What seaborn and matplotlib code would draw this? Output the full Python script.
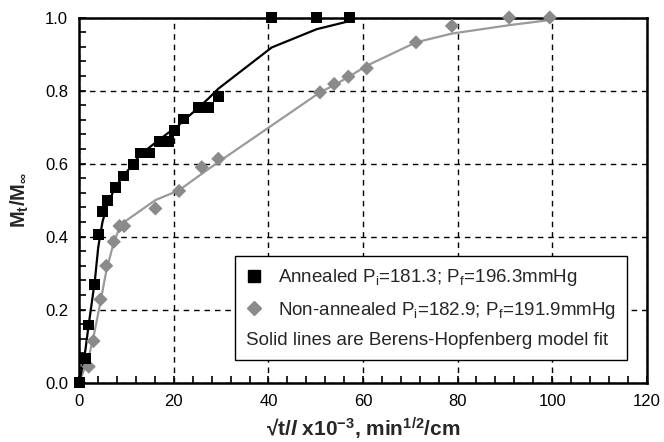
import numpy as np
import pandas as pd
import matplotlib
matplotlib.use("Agg")
import matplotlib.pyplot as plt
from matplotlib.lines import Line2D
from matplotlib.ticker import MultipleLocator, FormatStrFormatter
import seaborn as sns

# Sorption kinetics: normalised uptake vs sqrt(t)/l
annealed_x = [0, 1.3, 1.9, 3.3, 4.0, 4.9, 6.0, 7.6, 9.3, 11.4, 13.0, 14.9,
              16.9, 18.9, 20.2, 22.0, 25.1, 27.3, 29.4, 40.7, 50.2, 57.1]
annealed_y = [0, 0.065, 0.158, 0.269, 0.407, 0.469, 0.499, 0.535, 0.566, 0.597,
              0.629, 0.629, 0.660, 0.660, 0.691, 0.722, 0.753, 0.753, 0.784,
              1.0, 1.0, 1.0]
annealed_fit = [0, 0.09, 0.15, 0.28, 0.37, 0.44, 0.49, 0.535, 0.565, 0.60,
                0.625, 0.645, 0.665, 0.685, 0.695, 0.717, 0.752, 0.778, 0.805,
                0.918, 0.968, 0.99]

nonannealed_x = [2.0, 3.0, 4.5, 5.7, 7.3, 8.5, 9.5, 16.1, 21.1, 25.9, 29.4,
                 50.9, 53.9, 56.9, 60.8, 71.2, 78.8, 90.9, 99.5]
nonannealed_y = [0.044, 0.114, 0.228, 0.320, 0.386, 0.429, 0.429, 0.477, 0.525,
                 0.590, 0.613, 0.795, 0.818, 0.838, 0.861, 0.932, 0.977, 1.0, 1.0]
nonannealed_fit_x = [0] + nonannealed_x
nonannealed_fit = [0, 0.07, 0.125, 0.222, 0.305, 0.385, 0.423, 0.44, 0.50, 0.527,
                   0.572, 0.604, 0.795, 0.815, 0.837, 0.868, 0.932, 0.956,
                   0.979, 0.993]

x_ticks = [0, 20, 40, 60, 80, 100, 120]
y_ticks = [0.0, 0.2, 0.4, 0.6, 0.8, 1.0]

label_annealed = r"Annealed P$_\mathregular{i}$=181.3; P$_\mathregular{f}$=196.3mmHg"
label_nonannealed = r"Non-annealed P$_\mathregular{i}$=182.9; P$_\mathregular{f}$=191.9mmHg"
note = "Solid lines are Berens-Hopfenberg model fit"

sns.set_style("white")
plt.rcParams["font.family"] = ["Liberation Sans", "DejaVu Sans"]
plt.rcParams["mathtext.fontset"] = "custom"
plt.rcParams["mathtext.rm"] = "Liberation Sans"
plt.rcParams["mathtext.it"] = "Liberation Sans:italic"
plt.rcParams["mathtext.bf"] = "Liberation Sans:bold"
plt.rcParams["mathtext.bfit"] = "Liberation Sans:italic:bold"

BLACK = "#000000"
GREY_PT = "#8a8a8a"
GREY_LN = "#9a9a9a"

fig = plt.figure(figsize=(6.64, 4.42), dpi=100)
ax = fig.add_axes([0.1194, 0.1342, 0.8546, 0.8262])

fit_a = pd.DataFrame({"x": annealed_x, "y": annealed_fit})
fit_n = pd.DataFrame({"x": nonannealed_fit_x, "y": nonannealed_fit})
pts_a = pd.DataFrame({"x": annealed_x, "y": annealed_y})
pts_n = pd.DataFrame({"x": nonannealed_x, "y": nonannealed_y})

sns.lineplot(data=fit_n, x="x", y="y", ax=ax, color=GREY_LN, lw=1.6,
             sort=False, estimator=None, zorder=3)
sns.lineplot(data=fit_a, x="x", y="y", ax=ax, color=BLACK, lw=1.6,
             sort=False, estimator=None, zorder=4)
sns.scatterplot(data=pts_n, x="x", y="y", ax=ax, marker="D", s=52,
                color=GREY_PT, edgecolor="none", linewidth=0, zorder=5,
                clip_on=False)
sns.scatterplot(data=pts_a, x="x", y="y", ax=ax, marker="s", s=62,
                color=BLACK, edgecolor="none", linewidth=0, zorder=6,
                clip_on=False)

ax.set_xlim(0, 120)
ax.set_ylim(0, 1.0)
ax.set_xticks(x_ticks)
ax.set_yticks(y_ticks)
ax.xaxis.set_minor_locator(MultipleLocator(4))
ax.yaxis.set_minor_locator(MultipleLocator(0.04))
ax.yaxis.set_major_formatter(FormatStrFormatter("%.1f"))
ax.tick_params(axis="both", which="both", direction="in", length=5,
               width=1.2, color=BLACK, bottom=True, left=True,
               top=False, right=False)
ax.tick_params(axis="both", which="major", labelsize=12, pad=8,
               labelcolor=BLACK)

ax.grid(True, which="major", color=BLACK, lw=1.0, linestyle=(0, (4, 3.5)))
ax.set_axisbelow(True)
for sp in ax.spines.values():
    sp.set_color(BLACK)
    sp.set_linewidth(1.8)

ax.set_xlabel(r"√t/$\mathbfit{l}$ $\mathbf{x10^{-3}}$, $\mathbf{min^{1/2}}$/cm",
              fontsize=15, fontweight="bold", labelpad=5)
ax.set_ylabel(r"$\mathbf{M_t/M_\infty}$", fontsize=14.5, labelpad=10)

handles = [
    Line2D([], [], marker="s", color=BLACK, linestyle="none", markersize=8.5),
    Line2D([], [], marker="D", color=GREY_PT, linestyle="none", markersize=7.5),
]
leg = ax.legend(handles, [label_annealed, label_nonannealed], title=note,
                alignment="left", loc="lower right",
                bbox_to_anchor=(0.966, 0.062), fontsize=13.5, title_fontsize=13.5,
                frameon=True, fancybox=False, shadow=False, framealpha=1,
                edgecolor=BLACK, handlelength=0.8, handletextpad=0.9,
                labelspacing=0.6, borderpad=0.6, borderaxespad=0)
leg.get_frame().set_linewidth(1.0)
# put the note line under the legend entries
box = leg._legend_box
kids = box.get_children()
box._children = [kids[1], kids[0]]

fig.savefig("out.png", dpi=100)
